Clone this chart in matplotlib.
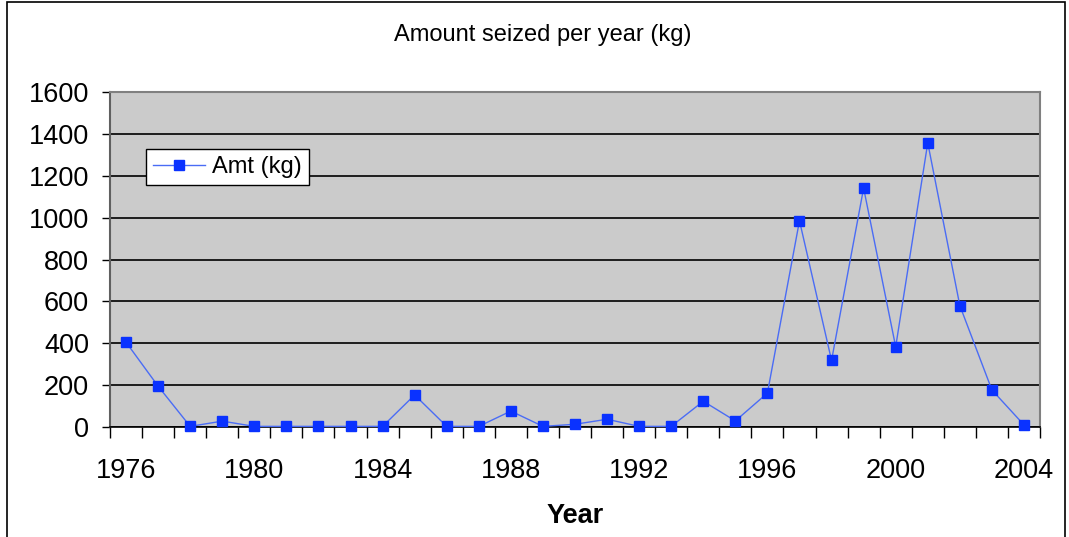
import numpy as np
from matplotlib import pyplot as plt
from matplotlib.patches import Rectangle

plt.rcParams['font.family'] = ['Liberation Sans', 'DejaVu Sans']

# Data
years = list(range(1976, 2005))
amounts = [405, 195, 3, 28, 3, 3, 3, 3, 3, 153, 3, 3, 76, 3, 13, 37, 3, 3,
           123, 29, 162, 985, 318, 1141, 383, 1357, 580, 177, 10]
y_ticks = [0, 200, 400, 600, 800, 1000, 1200, 1400, 1600]
label_years = [1976, 1980, 1984, 1988, 1992, 1996, 2000, 2004]

fig = plt.figure(figsize=(10.69, 5.37), dpi=100)
ax = fig.add_axes([110 / 1069, 110 / 537, 930 / 1069, 335 / 537])
ax.set_facecolor('#cbcbcb')

pos = np.arange(len(years))
ax.plot(pos, amounts, color='#4a6cf5', linewidth=1.0, marker='s',
        markersize=7.5, markerfacecolor='#0a32ff', markeredgecolor='#0a32ff',
        label='Amt (kg)', clip_on=False, zorder=3)

ax.set_xlim(-0.5, len(years) - 0.5)
ax.set_ylim(0, 1600)

# Category axis: labels on categories, tick marks between categories
label_pos = [years.index(y) for y in label_years]
ax.set_xticks(label_pos)
ax.set_xticklabels([str(y) for y in label_years], fontsize=19.5)
ax.set_xticks(np.arange(-0.5, len(years), 1.0), minor=True)
ax.tick_params(axis='x', which='major', length=0, pad=22)
ax.tick_params(axis='x', which='minor', length=8, width=1, color='black', direction='out')

ax.set_yticks(y_ticks)
ax.set_yticklabels([str(v) for v in y_ticks], fontsize=19.5)
ax.tick_params(axis='y', length=6, width=1, color='black', direction='out', pad=9)

ax.yaxis.grid(True, color='black', linewidth=1.2)
ax.set_axisbelow(True)

for side in ['top', 'right']:
    ax.spines[side].set_color('#808080')
    ax.spines[side].set_linewidth(1.5)
ax.spines['left'].set_color('#606060')
ax.spines['left'].set_linewidth(1.5)
ax.spines['bottom'].set_color('black')
ax.spines['bottom'].set_linewidth(1.2)

ax.set_xlabel('Year', fontsize=19.5, fontweight='bold', labelpad=14)

fig.text(543 / 1069, 1 - 35 / 537, 'Amount seized per year (kg)', fontsize=17,
         ha='center', va='center')

leg = ax.legend(loc='upper left', bbox_to_anchor=(36 / 930, 1 - 57 / 335),
                fontsize=17, frameon=True, fancybox=False, framealpha=1,
                edgecolor='black', borderpad=0.3, handlelength=2.2,
                handletextpad=0.3, borderaxespad=0)
leg.get_frame().set_linewidth(1.0)

# Outer chart border
fig.patches.append(Rectangle((7 / 1069, -0.01), 1058 / 1069, 1 - 2 / 537 + 0.01,
                             transform=fig.transFigure, fill=False,
                             edgecolor='black', linewidth=1.2))

fig.savefig('out.png', dpi=100, facecolor='white')
